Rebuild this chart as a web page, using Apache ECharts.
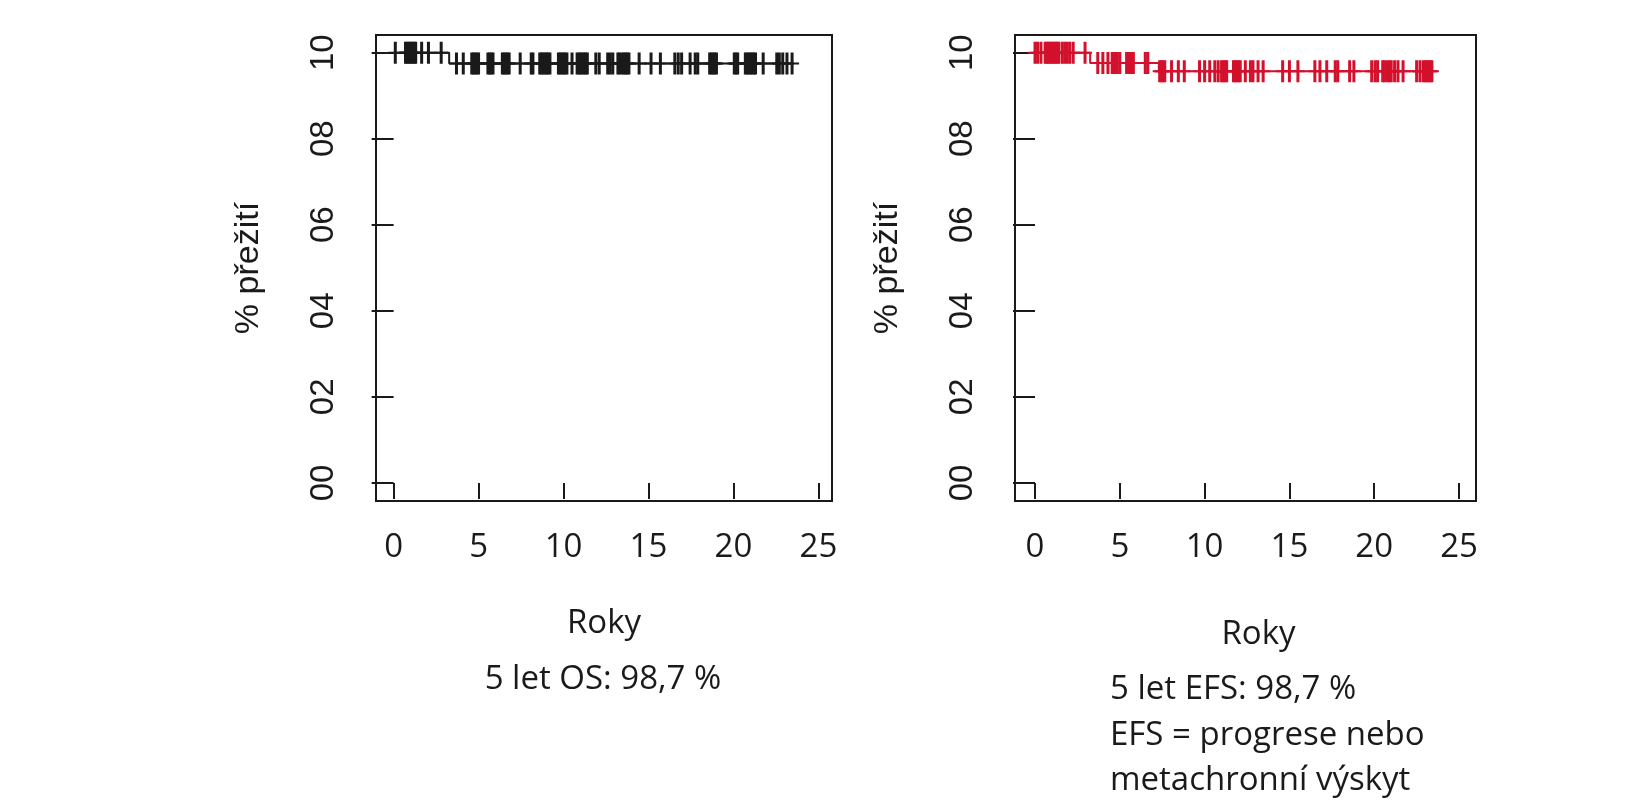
<!DOCTYPE html>
<html>
<head>
<meta charset="utf-8">
<title>Přežití</title>
<script src="https://cdn.jsdelivr.net/npm/echarts@6/dist/echarts.min.js"></script>
<style>
html, body { margin: 0; padding: 0; background: #fff; }
#main { width: 1652px; height: 800px; }
</style>
</head>
<body>
<div id="main"></div>
<script>
// popisky os (v originale chybi desetinna tecka)
var yTicks = [0, 0.2, 0.4, 0.6, 0.8, 1.0];
var yTickLabels = ['00', '02', '04', '06', '08', '10'];
var xTicks = [0, 5, 10, 15, 20, 25];

// celkove preziti (OS)
var osTimes = [0, 3.27];
var osSurv = [1.0, 0.975];
var osCensor = [0.1, 0.7, 0.8, 0.9, 1.0, 1.1, 1.2, 1.3, 1.65, 2.05, 2.8,
    3.7, 4.1, 4.6, 4.7, 4.8, 4.9, 5.0, 5.55, 5.65, 5.75, 5.85,
    6.4, 6.5, 6.6, 6.7, 6.8, 7.45, 8.1, 8.2, 8.6, 8.7, 8.8, 8.9, 9.0, 9.1, 9.2,
    9.7, 9.8, 9.9, 10.0, 10.1, 10.2, 10.5, 10.8, 10.9, 11.0, 11.1, 11.2, 11.3, 11.4,
    11.9, 12.1, 12.6, 12.75, 12.9, 13.2, 13.3, 13.45, 13.55, 13.65, 13.75, 13.85,
    14.45, 15.15, 15.7, 16.55, 16.75, 16.95, 17.45, 17.75, 17.9,
    18.6, 18.7, 18.8, 18.9, 19.0, 20.05, 20.15, 20.25, 20.7, 20.8, 20.9, 21.0, 21.1, 21.2, 21.3,
    21.75, 22.55, 22.7, 22.9, 23.15, 23.45];

// preziti bez udalosti (EFS)
var efsTimes = [0, 3.25, 7.3];
var efsSurv = [1.0, 0.976, 0.957];
var efsCensor = [0.0, 0.15, 0.35, 0.6, 0.7, 0.8, 0.9, 1.0, 1.1, 1.2, 1.3, 1.4,
    1.6, 1.75, 1.9, 2.05, 2.25, 2.95, 3.7, 4.0, 4.3, 4.55, 4.65, 4.75, 4.85, 5.0,
    5.4, 5.5, 5.6, 5.7, 5.8, 6.5, 6.65, 7.35, 7.45, 7.55, 7.65, 8.05, 8.45, 8.8,
    9.7, 10.0, 10.3, 10.6, 10.8, 11.0, 11.1, 11.2, 11.3, 11.7, 11.8, 11.9, 12.0, 12.1,
    12.4, 12.7, 12.85, 13.15, 13.45, 14.6, 15.0, 15.5, 16.5, 16.8, 17.2, 17.7, 17.85,
    18.55, 18.8, 19.85, 20.05, 20.2, 20.5, 20.6, 20.75, 20.9, 21.0, 21.2, 21.4, 21.7,
    22.5, 22.7, 22.9, 23.0, 23.1, 23.2, 23.3, 23.4];

var osColor = '#1a1a1a';
var efsColor = '#d3112d';
var fontLatin = '"Open Sans", "Noto Sans", sans-serif';
var fontArial = '"Liberation Sans", Arial, sans-serif';

// hodnota krivky v case t
function survAt(times, surv, t) {
    var s = surv[0];
    for (var i = 0; i < times.length; i++) {
        if (t >= times[i]) s = surv[i];
    }
    return s;
}

function curveData(times, surv, censor) {
    var data = [];
    for (var i = 0; i < times.length; i++) {
        data.push([times[i], surv[i]]);
    }
    data.push([censor[censor.length - 1], surv[surv.length - 1]]);
    return data;
}

function censorData(times, surv, censor) {
    var data = [];
    for (var i = 0; i < censor.length; i++) {
        data.push([censor[i], survAt(times, surv, censor[i])]);
    }
    return data;
}

// znacka "+" pro cenzorovana pozorovani
var plusPath = 'path://M-1.5,-11 L1.5,-11 L1.5,-1 L7,-1 L7,1 L1.5,1 L1.5,11 L-1.5,11 L-1.5,1 L-7,1 L-7,-1 L-1.5,-1 Z';

function makeX(idx, min, max, namePad, nameGap) {
    return {
        gridIndex: idx,
        type: 'value',
        min: min,
        max: max,
        name: 'Roky',
        nameLocation: 'middle',
        nameGap: nameGap,
        nameTextStyle: { fontFamily: fontLatin, fontSize: 33, color: '#1a1a1a', padding: namePad },
        axisLine: { show: false },
        axisTick: { show: true, inside: false, length: 16, customValues: xTicks, lineStyle: { color: '#1a1a1a', width: 2 } },
        axisLabel: { show: true, margin: 30, customValues: xTicks, fontFamily: fontLatin, fontSize: 33, color: '#1a1a1a' },
        splitLine: { show: false }
    };
}

function makeY(idx) {
    return {
        gridIndex: idx,
        type: 'value',
        min: -0.042,
        max: 1.041,
        name: '% přežití',
        nameLocation: 'middle',
        nameGap: 110,
        nameRotate: 90,
        nameTextStyle: { fontFamily: fontArial, fontSize: 34, color: '#1a1a1a' },
        axisLine: { show: false },
        axisTick: { show: true, inside: false, length: 22, customValues: yTicks, lineStyle: { color: '#1a1a1a', width: 2 } },
        axisLabel: {
            show: true, margin: 36, rotate: 90, customValues: yTicks,
            fontFamily: fontArial, fontSize: 33, color: '#1a1a1a',
            formatter: function (v) {
                for (var i = 0; i < yTicks.length; i++) {
                    if (Math.abs(yTicks[i] - v) < 1e-6) return yTickLabels[i];
                }
                return '';
            }
        },
        splitLine: { show: false }
    };
}

var myChart = echarts.init(document.getElementById('main'));
myChart.setOption({
    animation: false,
    backgroundColor: '#fff',
    grid: [
        { left: 376, top: 35, width: 456, height: 466, show: true, borderColor: '#1a1a1a', borderWidth: 2, backgroundColor: 'transparent' },
        { left: 1015, top: 35, width: 461, height: 466, show: true, borderColor: '#1a1a1a', borderWidth: 2, backgroundColor: 'transparent' }
    ],
    xAxis: [
        makeX(0, -1.036, 25.8, [0, 0, 0, 0], 106),
        makeX(1, -1.18, 26.0, [0, 0, 0, 26], 117)
    ],
    yAxis: [makeY(0), makeY(1)],
    graphic: [
        { type: 'text', x: 603, y: 680, style: { text: '5 let OS: 98,7 %', font: '33px ' + fontLatin, fill: '#1a1a1a', textAlign: 'center', textVerticalAlign: 'middle' } },
        { type: 'text', x: 1110, y: 690, style: { text: '5 let EFS: 98,7 %', font: '33px ' + fontLatin, fill: '#1a1a1a', textVerticalAlign: 'middle' } },
        { type: 'text', x: 1110, y: 736, style: { text: 'EFS = progrese nebo', font: '33px ' + fontLatin, fill: '#1a1a1a', textVerticalAlign: 'middle' } },
        { type: 'text', x: 1110, y: 781, style: { text: 'metachronní výskyt', font: '33px ' + fontLatin, fill: '#1a1a1a', textVerticalAlign: 'middle' } }
    ],
    series: [
        {
            name: 'OS', type: 'line', xAxisIndex: 0, yAxisIndex: 0, step: 'end',
            showSymbol: false, lineStyle: { color: osColor, width: 2 },
            data: curveData(osTimes, osSurv, osCensor)
        },
        {
            name: 'OS cenzura', type: 'scatter', xAxisIndex: 0, yAxisIndex: 0,
            symbol: plusPath, symbolSize: [14, 22],
            itemStyle: { color: osColor, opacity: 1 },
            data: censorData(osTimes, osSurv, osCensor)
        },
        {
            name: 'EFS', type: 'line', xAxisIndex: 1, yAxisIndex: 1, step: 'end',
            showSymbol: false, lineStyle: { color: efsColor, width: 2 },
            data: curveData(efsTimes, efsSurv, efsCensor)
        },
        {
            name: 'EFS cenzura', type: 'scatter', xAxisIndex: 1, yAxisIndex: 1,
            symbol: plusPath, symbolSize: [14, 22],
            itemStyle: { color: efsColor, opacity: 1 },
            data: censorData(efsTimes, efsSurv, efsCensor)
        }
    ]
});
</script>
</body>
</html>
